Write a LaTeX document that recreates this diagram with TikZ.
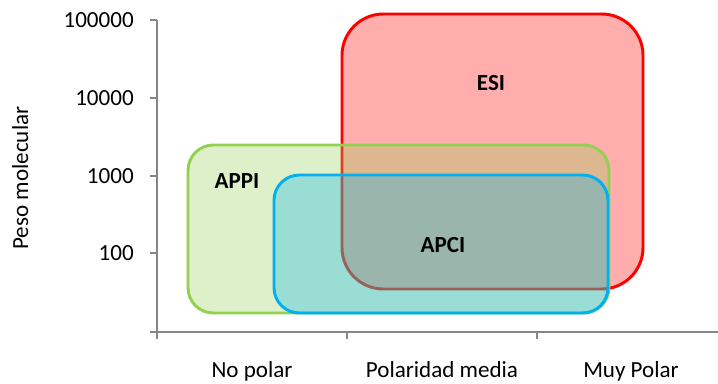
\documentclass[tikz,border=0pt]{standalone}
\usepackage{fontspec}
\setmainfont{Carlito}
\definecolor{axisgray}{HTML}{868686}
\definecolor{esired}{HTML}{FF0000}
\definecolor{appigreen}{HTML}{92D050}
\definecolor{apciblue}{HTML}{00B0F0}

\begin{document}
\begin{tikzpicture}[x=0.75pt,y=-0.75pt]
\tikzstyle{axis}=[draw=axisgray, line width=1.1pt]
\tikzstyle{lab}=[font=\fontsize{17.3}{20}\selectfont, inner sep=0pt]
\tikzstyle{tag}=[lab, font=\fontsize{17.3}{20}\selectfont\bfseries]
\tikzstyle{esibox}=[draw=esired, fill=esired, fill opacity=0.32, line width=2.2pt, rounded corners=31pt]
\tikzstyle{appibox}=[draw=appigreen, fill=appigreen, fill opacity=0.31, line width=2.2pt, rounded corners=19pt]
\tikzstyle{apcibox}=[draw=apciblue, fill=apciblue, fill opacity=0.3, line width=2.2pt, rounded corners=19pt]
\useasboundingbox (0,0) rectangle (718,383);

% ejes
\draw[axis] (157,20) -- (157,332);
\draw[axis] (150,332) -- (718,332);
\foreach \y in {20,98,176,253} \draw[axis] (150,\y) -- (157,\y);
\foreach \x in {157,347,537} \draw[axis] (\x,332) -- (\x,339);

\node (t5) [lab, anchor=east] at (134,20) {100000};
\node (t4) [lab, anchor=east] at (134,98) {10000};
\node (t3) [lab, anchor=east] at (134,176) {1000};
\node (t2) [lab, anchor=east] at (134,253) {100};
\node (ylab) [lab, rotate=90, anchor=base] at (28,178) {Peso molecular};

\node (np) [lab, anchor=base] at (252,377) {No polar};
\node (pm) [lab, anchor=base] at (442,377) {Polaridad media};
\node (mp) [lab, anchor=base] at (631,377) {Muy Polar};

% zonas
\draw[esibox] (342,14) rectangle (643,289);
\draw[appibox] (188,145) rectangle (609,313);
\draw[apcibox] (274,175) rectangle (608,313);

\node (esi) [tag] at (491,83) {ESI};
\node (appi) [tag] at (237,181) {APPI};
\node (apci) [tag] at (443,245) {APCI};
\end{tikzpicture}
\end{document}
